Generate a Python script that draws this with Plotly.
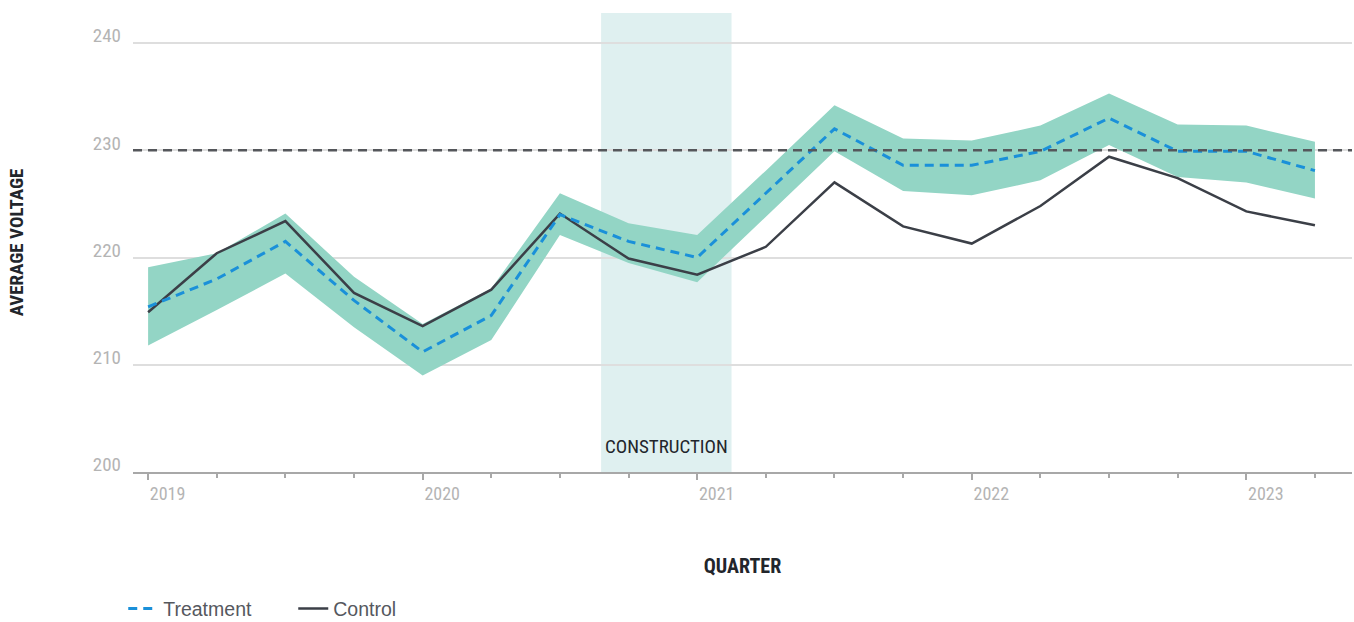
import plotly.graph_objects as go

# Quarterly average voltage, treatment vs. control
quarters = ["2019-Q1", "2019-Q2", "2019-Q3", "2019-Q4",
            "2020-Q1", "2020-Q2", "2020-Q3", "2020-Q4",
            "2021-Q1", "2021-Q2", "2021-Q3", "2021-Q4",
            "2022-Q1", "2022-Q2", "2022-Q3", "2022-Q4",
            "2023-Q1", "2023-Q2"]
treatment = [215.4, 218.0, 221.5, 216.0, 211.2, 214.6, 224.0, 221.5, 220.0,
             226.0, 232.0, 228.6, 228.6, 229.9, 233.0, 229.9, 229.9, 228.1]
treatment_upper = [219.1, 220.4, 224.1, 218.2, 213.8, 217.1, 226.0, 223.2, 222.1,
                   228.1, 234.2, 231.1, 230.9, 232.3, 235.3, 232.4, 232.3, 230.8]
treatment_lower = [211.8, 215.1, 218.5, 213.5, 209.0, 212.3, 222.1, 219.5, 217.7,
                   223.8, 229.9, 226.2, 225.8, 227.2, 230.5, 227.5, 227.0, 225.5]
control = [214.9, 220.4, 223.4, 216.7, 213.6, 217.0, 224.1, 219.9, 218.4,
           221.0, 227.0, 222.9, 221.3, 224.8, 229.4, 227.4, 224.3, 223.0]

target_voltage = 230
construction_start = 2020.65
construction_end = 2021.125
year_ticks = [2019, 2020, 2021, 2022, 2023]
y_ticks = [200, 210, 220, 230, 240]


def quarter_to_year(q):
    year, qq = q.split("-Q")
    return int(year) + (int(qq) - 1) / 4


x = [quarter_to_year(q) for q in quarters]

COND = "Roboto Condensed, Open Sans Condensed, sans-serif"
TICK_GREY = "#b4b4b4"
DARK = "#22252b"

fig = go.Figure()

# Confidence band around the treatment series
fig.add_trace(go.Scatter(x=x, y=treatment_lower, mode="lines",
                         line=dict(width=0), showlegend=False, hoverinfo="skip"))
fig.add_trace(go.Scatter(x=x, y=treatment_upper, mode="lines",
                         line=dict(width=0), fill="tonexty",
                         fillcolor="#93d5c5", showlegend=False, hoverinfo="skip"))

fig.add_trace(go.Scatter(x=x, y=control, mode="lines", name="Control",
                         line=dict(color="#3b3f47", width=2.5)))
fig.add_trace(go.Scatter(x=x, y=treatment, mode="lines", name="Treatment",
                         line=dict(color="#1a90d9", width=3, dash="9px,6px")))

# Construction period
fig.add_shape(type="rect", xref="x", yref="paper",
              x0=construction_start, x1=construction_end, y0=0, y1=1,
              fillcolor="#dff0f0", line=dict(width=0), layer="below")
fig.add_annotation(x=(construction_start + construction_end) / 2, y=0.0566,
                   xref="x", yref="paper", yanchor="middle",
                   text="CONSTRUCTION", showarrow=False,
                   font=dict(family=COND, size=19, color=DARK))

# Target voltage reference
fig.add_shape(type="line", xref="paper", yref="y", x0=0, x1=1,
              y0=target_voltage, y1=target_voltage,
              line=dict(color="#55575b", width=2.5, dash="9px,6px"))

fig.update_layout(
    width=1354, height=622,
    margin=dict(l=133, r=2, t=13, b=150, autoexpand=False),
    paper_bgcolor="white", plot_bgcolor="white",
    legend=dict(orientation="h", x=-0.008, y=0.021, xanchor="left",
                yanchor="middle", yref="container", traceorder="reversed",
                font=dict(family="Liberation Sans, Arial, sans-serif",
                          size=19.5, color="#55585e"),
                entrywidth=125, itemwidth=30),
    showlegend=True,
)

fig.update_xaxes(
    range=[2018.945, 2023.385],
    tickvals=year_ticks, ticktext=[str(v) for v in year_ticks],
    ticks="outside", ticklen=6, tickwidth=1.5, tickcolor="#a8a8a8",
    ticklabelposition="outside right", ticklabelstandoff=4,
    minor=dict(dtick=0.25, tick0=2019, ticks="outside", ticklen=4,
               tickwidth=1.5, tickcolor="#a8a8a8", showgrid=False),
    showgrid=False, zeroline=False,
    showline=True, linecolor="#a8a8a8", linewidth=2,
    tickfont=dict(family=COND, size=18, color=TICK_GREY),
    automargin=False,
    title=dict(text="<b>QUARTER</b>", standoff=56,
               font=dict(family=COND, size=20, color=DARK)),
)

fig.update_yaxes(
    range=[200, 242.8],
    tickvals=y_ticks, ticktext=[str(v) for v in y_ticks],
    ticklabelposition="outside top", ticklabelstandoff=11, ticklabelshift=6,
    showgrid=True, gridcolor="#dedede", gridwidth=1.5,
    zeroline=False, showline=False, ticks="",
    tickfont=dict(family=COND, size=19, color=TICK_GREY),
    automargin=False,
    title=dict(text="<b>AVERAGE VOLTAGE</b>", standoff=64,
               font=dict(family=COND, size=19, color=DARK)),
)

fig.write_html("out.html")
